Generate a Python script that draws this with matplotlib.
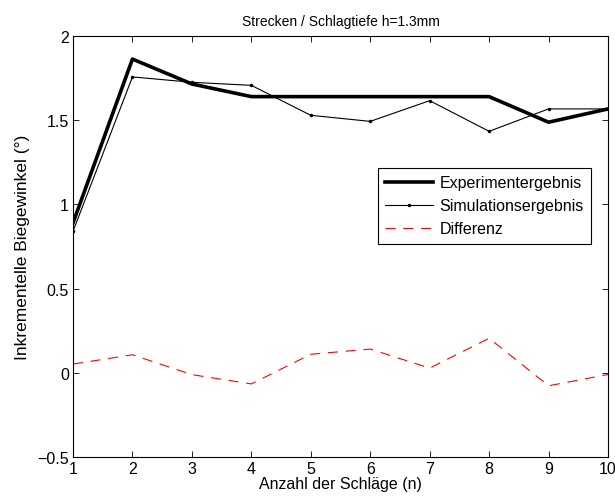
import matplotlib
matplotlib.use("Agg")
import matplotlib.pyplot as plt

plt.rcParams['font.family'] = ['Liberation Sans', 'DejaVu Sans']
plt.rcParams['font.size'] = 11.5

schlaege = [1, 2, 3, 4, 5, 6, 7, 8, 9, 10]
experiment = [0.89, 1.863, 1.715, 1.64, 1.64, 1.64, 1.64, 1.64, 1.488, 1.567]
simulation = [0.84, 1.757, 1.725, 1.707, 1.529, 1.493, 1.616, 1.434, 1.567, 1.567]
differenz = [0.052, 0.107, -0.011, -0.066, 0.11, 0.141, 0.028, 0.205, -0.077, -0.01]

fig = plt.figure(figsize=(6.15, 5.02), dpi=100)
ax = fig.add_axes([73/615, 1-458/502, 535/615, 421/502])

ax.plot(schlaege, experiment, color='black', lw=2.6, label='Experimentergebnis')
ax.plot(schlaege, simulation, color='black', lw=0.8, marker='.', ms=3, label='Simulationsergebnis')
ax.plot(schlaege, differenz, color='red', lw=0.8, ls=(0, (9, 7)), label='Differenz')

ax.set_xlim(1, 10)
ax.set_ylim(-0.5, 2)
ax.set_xticks(range(1, 11))
ax.set_yticks([-0.5, 0, 0.5, 1, 1.5, 2])
ax.set_yticklabels(['\u22120.5', '0', '0.5', '1', '1.5', '2'])
ax.tick_params(direction='in', top=True, right=True, length=4, width=0.6, pad=3)
for s in ax.spines.values():
    s.set_linewidth(0.8)

ax.set_title('Strecken / Schlagtiefe h=1.3mm', fontsize=10, pad=8)
ax.set_xlabel('Anzahl der Schläge (n)', labelpad=0)
ax.set_ylabel('Inkrementelle Biegewinkel (°)', fontsize=12.5, labelpad=5)

leg = ax.legend(loc='upper right', bbox_to_anchor=(0.968, 0.686), borderaxespad=0,
                fancybox=False, edgecolor='black', framealpha=1,
                handlelength=3, handletextpad=0.4, labelspacing=0.5, borderpad=0.45)
leg.get_frame().set_linewidth(0.8)

fig.savefig('out.png', dpi=100)
